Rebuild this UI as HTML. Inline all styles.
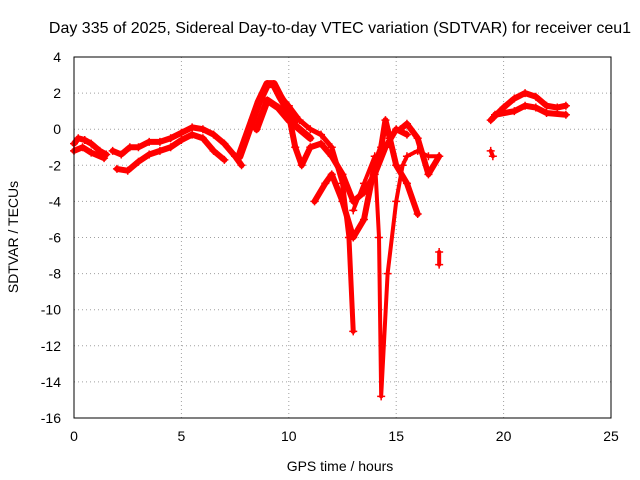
<!DOCTYPE html>
<html><head><meta charset="utf-8"><style>
body{margin:0;background:#fff;}
svg{display:block;font-family:"Liberation Sans",sans-serif;}
</style></head><body>
<svg id="chart" width="640" height="480" viewBox="0 0 640 480">
<rect width="640" height="480" fill="#fff"/>
<text x="340" y="33" font-size="16" text-anchor="middle">Day 335 of 2025, Sidereal Day-to-day VTEC variation (SDTVAR) for receiver ceu1</text>
<text x="340" y="471" font-size="14" text-anchor="middle">GPS time / hours</text>
<text x="18" y="237" font-size="14" text-anchor="middle" transform="rotate(-90 18 237)">SDTVAR / TECUs</text>
<g id="grid"></g><g id="ticks"></g><g id="marks"></g>
<rect x="74" y="57" width="537" height="361" fill="none" stroke="#000"/>
</svg>
<script>
const xTicks=[0,5,10,15,20,25];
const yTicks=[4,2,0,-2,-4,-6,-8,-10,-12,-14,-16];
const tracks=[
[[0,-0.8],[0.2,-0.5],[0.5,-0.6],[0.8,-0.8],[1.2,-1.2],[1.5,-1.4]],
[[0,-1.2],[0.4,-1.0],[0.8,-1.3],[1.4,-1.6]],
[[1.8,-1.2],[2.2,-1.4],[2.6,-1.0],[3,-1.0],[3.5,-0.7],[4,-0.7],[4.5,-0.5],[5,-0.2],[5.5,0.1],[6,0],[6.5,-0.3],[7,-0.8],[7.5,-1.5],[7.8,-2.0]],
[[2,-2.2],[2.5,-2.3],[3,-1.8],[3.5,-1.4],[4,-1.2],[4.5,-1.0],[5,-0.6],[5.5,-0.3],[6,-0.5],[6.5,-1.2],[7,-1.7]],
[[7.7,-1.5],[8,-0.5],[8.3,0.5],[8.6,1.5],[9,2.5],[9.3,2.5],[9.6,1.8],[10,1.0],[10.3,0.5]],
[[8.5,0],[9,1.6],[9.5,1.2],[10,0.5],[10.5,0],[11,-0.5]],
[[9.5,2],[10,1.3],[10.5,0.5],[11,0],[11.5,-0.3],[12,-1],[12.5,-3],[12.8,-6],[13,-11.2]],
[[10,0.8],[10.3,-1],[10.6,-2],[11,-1],[11.5,-0.8],[12,-1.5],[12.5,-2.5],[13,-4],[13.5,-3.5],[14,-2.5],[14.5,-1],[15,0],[15.5,-0.3]],
[[11.2,-4],[11.7,-3],[12,-2.5],[12.5,-4],[13,-6],[13.5,-5],[14,-2],[14.3,-1],[14.5,0.5],[14.7,-0.5],[15,-2],[15.5,-3],[16,-4.7]],
[[13,-4.5],[13.5,-3],[14,-1.5],[14.2,-6],[14.3,-14.8],[14.6,-8],[15,-4],[15.3,-2],[15.5,-1.5],[16,-1.2],[16.5,-1.5],[17,-1.5]],
[[15.2,0],[15.5,0.3],[16,-0.5],[16.5,-2.5],[17,-1.5]],
[[17,-7.5],[17,-6.8]],
[[19.4,-1.2],[19.5,-1.5]],
[[19.4,0.5],[20,1.2],[20.5,1.7],[21,2],[21.5,1.8],[22,1.3],[22.5,1.2],[22.9,1.3]],
[[19.6,0.8],[20.5,1],[21,1.3],[21.5,1.2],[22,0.9],[22.9,0.8]]
];
const trackStroke=[6,6,6,6,8,7,5,6,6,4,6,4,4,6,6];
const NS='http://www.w3.org/2000/svg';
const X=v=>74+(v/25)*537, Y=v=>57+(4-v)/20*361;
const grid=document.getElementById('grid'),ticks=document.getElementById('ticks'),marks=document.getElementById('marks');
function mk(tag,attrs,parent){const e=document.createElementNS(NS,tag);for(const k in attrs)e.setAttribute(k,attrs[k]);parent.appendChild(e);return e;}
xTicks.forEach(t=>{
 const g=mk('line',{x1:X(t),x2:X(t),y1:57,y2:418,stroke:'#a0a0a0','stroke-dasharray':'1,3'},grid);
 
 
 const l=mk('text',{x:X(t),y:441,'font-size':14,'text-anchor':'middle'},ticks);l.textContent=t;
 
 
});
yTicks.forEach(t=>{
 const g=mk('line',{x1:74,x2:611,y1:Y(t),y2:Y(t),stroke:'#a0a0a0','stroke-dasharray':'1,3'},grid);
 
 
 const l=mk('text',{x:61,y:Y(t)+5,'font-size':14,'text-anchor':'end'},ticks);l.textContent=t;
 
 
});
tracks.forEach((tr,i)=>{
 const p=mk('polyline',{points:tr.map(d=>X(d[0])+','+Y(d[1])).join(' '),fill:'none',stroke:'#f00','stroke-width':trackStroke[i],'stroke-linejoin':'round','stroke-linecap':'round'},marks);
 
 
 tr.forEach(d=>{
  const m=mk('path',{d:`M${X(d[0])-4},${Y(d[1])}h8M${X(d[0])},${Y(d[1])-4}v8`,stroke:'#f00','stroke-width':1.5},marks);
  
  
 });
});
</script>
</body></html>
